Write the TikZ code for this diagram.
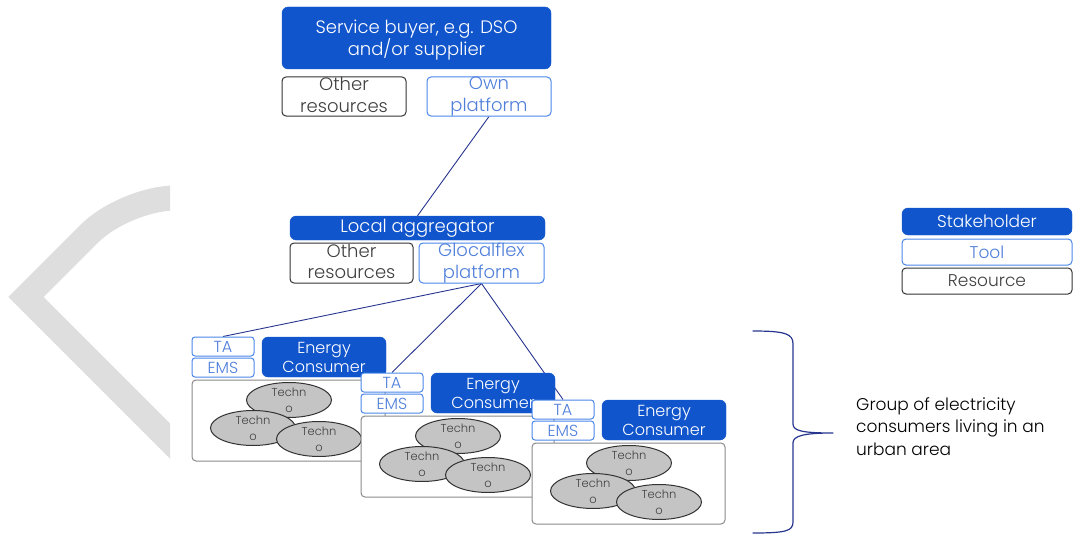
\documentclass[tikz,border=0pt]{standalone}
\usepackage{fontspec}
\IfFontExistsTF{Poppins Light}{\setmainfont{Poppins Light}}{\setmainfont{Poppins}}
\usetikzlibrary{shapes.geometric,backgrounds}
\definecolor{holderblue}{HTML}{1155CC}
\definecolor{toolblue}{HTML}{4A86E8}
\definecolor{tooltext}{HTML}{4F7FDB}
\definecolor{resline}{HTML}{333333}
\definecolor{restext}{HTML}{404040}
\definecolor{linknavy}{HTML}{27358F}
\definecolor{chevrongray}{HTML}{DEDEDE}
\definecolor{techfill}{HTML}{C4C4C4}
\definecolor{contline}{HTML}{8A8A8A}
% fixed line struts so that two-line labels sit alike whatever their letters
\newcommand\tstrut{\rule[-3.5pt]{0pt}{14pt}}
\newcommand\tallstrut{\rule[-3.5pt]{0pt}{21pt}}

\begin{document}
\begin{tikzpicture}[x=1pt,y=-1pt,
  holder/.style={draw=holderblue, fill=holderblue, text=white, rounded corners=6pt,
    inner sep=0pt, align=center, font=\fontsize{18}{21.5}\selectfont},
  tool/.style={draw=toolblue, fill=white, text=tooltext, rounded corners=4pt,
    line width=1pt, inner sep=0pt, align=center, font=\fontsize{18}{21.5}\selectfont},
  resource/.style={draw=resline, fill=white, text=restext, rounded corners=4pt,
    line width=1pt, inner sep=0pt, align=center, font=\fontsize{18}{21.5}\selectfont},
  small/.style={font=\fontsize{16}{19}\selectfont},
  legend/.style={font=\fontsize{17}{20}\selectfont, minimum width=170pt},
  cont/.style={draw=contline, fill=white, rounded corners=4pt, line width=1pt, inner sep=0pt},
  techn/.style={ellipse, draw=resline, fill=techfill, line width=1pt, inner sep=0pt,
    minimum width=85pt, minimum height=35pt, text=restext, align=center,
    font=\fontsize{11.5}{16}\selectfont},
  link/.style={draw=linknavy, line width=0.9pt},
  brace/.style={draw=linknavy, line width=1.2pt, line join=round, line cap=round}
]
\useasboundingbox (0,0) rectangle (1077,535);

% service buyer and its resources
\node[holder, minimum width=269pt, minimum height=62pt] (buyer) at (416.5,38)
  {\tallstrut Service buyer, e.g. DSO\\\tstrut and/or supplier};
\node[resource, minimum width=124pt, minimum height=39pt] (res1) at (344,96.5) {\tstrut Other\\\tstrut resources};
\node[tool, minimum width=124pt, minimum height=39pt] (own) at (489,96.5) {\tstrut Own\\\tstrut platform};

% local aggregator
\node[holder, minimum width=255pt, minimum height=24pt] (agg) at (417.5,228) {Local aggregator};
\node[resource, minimum width=123pt, minimum height=40pt] (res2) at (351.5,263) {\tstrut Other\\\tstrut resources};
\node[tool, minimum width=125pt, minimum height=40pt] (glo) at (481.5,263) {\tstrut Glocalflex\\\tstrut platform};

% legend
\node[holder, legend, minimum height=27pt] (lstake) at (987,221.5) {Stakeholder};
\node[tool, legend, minimum height=26pt] (ltool) at (987,252) {Tool};
\node[resource, legend, minimum height=26pt] (lres) at (987,281) {Resource};

% energy consumer groups
\foreach \i/\gx/\gy in {1/192/337, 2/361/373, 3/532/400} {
  \node[tool, small, minimum width=62pt, minimum height=19pt, rounded corners=3pt] (ta\i) at (\gx+31,\gy+9.5) {TA};
  \node[tool, small, minimum width=62pt, minimum height=19pt, rounded corners=3pt] (ems\i) at (\gx+31,\gy+30.5) {EMS};
  \node[holder, small, minimum width=124pt, minimum height=40pt] (ec\i) at (\gx+132,\gy+20) {Energy\\Consumer};
  \node[cont, minimum width=193pt, minimum height=81pt] (cont\i) at (\gx+96.5,\gy+83.5) {};
  \node[techn] (tea\i) at (\gx+97,\gy+63) {Techn\\o};
  \node[techn] (teb\i) at (\gx+61,\gy+91) {Techn\\o};
  \node[techn] (tec\i) at (\gx+127,\gy+102) {Techn\\o};
}

% connectors and background chevron
\begin{scope}[on background layer]
  \begin{scope}
    \clip (0,0) rectangle (170,535);
    \draw[chevrongray, line width=25pt]
      (200,198) -- (175,198) .. controls (147.5,198) and (109.1,213.9) .. (89.6,233.4)
      -- (26,297) -- (220,491);
  \end{scope}
  \draw[link] (own.south) -- (agg.north);
  \draw[link] (glo.south) -- (ta1.north);
  \draw[link] (glo.south) -- (ta2.north);
  \draw[link] (glo.south) -- (ta3.north);
\end{scope}

% group brace and label
\draw[brace] (753,331) .. controls (786,331) and (793,334) .. (793,344) -- (793,424)
  .. controls (793,431) and (803,433) .. (833,433)
  .. controls (803,433) and (793,436) .. (793,443) -- (793,522)
  .. controls (793,531) and (786,533) .. (753,533);
\node[anchor=west, align=left, inner sep=0pt, font=\fontsize{17}{22.5}\selectfont] (grouplabel)
  at (856,426.5) {Group of electricity\\consumers living in an\\urban area};
\end{tikzpicture}
\end{document}
